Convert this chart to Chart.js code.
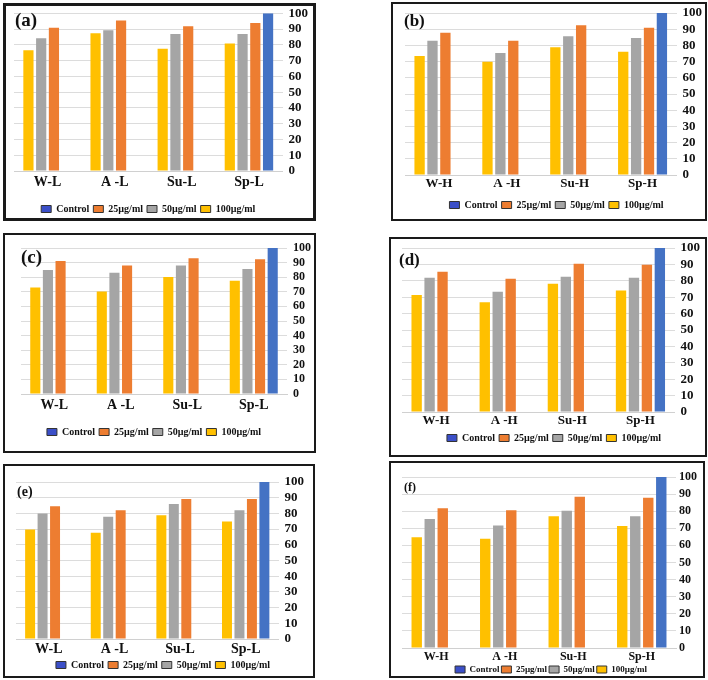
<!DOCTYPE html>
<html>
<head>
<meta charset="utf-8">
<script src="https://cdn.jsdelivr.net/npm/chart.js@4.4.1/dist/chart.umd.min.js"></script>
<style>
  body { margin: 0; background: #fff; width: 708px; height: 680px; position: relative; overflow: hidden; }
  .panel { position: absolute; border: 2px solid #1a1a1a; background: #fff; box-sizing: border-box; }
  .panel canvas { position: absolute; left: 0; top: 0; }
  .tag { position: absolute; font-family: "Liberation Serif", serif; font-weight: bold; color: #111; }
</style>
</head>
<body>
<div class="panel" id="pa" style="left:3px;top:3px;width:313px;height:218px;border-width:3px"><canvas id="ca"></canvas><div class="tag" style="left:9px;top:3px;font-size:19px">(a)</div></div>
<div class="panel" id="pb" style="left:391px;top:2px;width:316px;height:219px"><canvas id="cb"></canvas><div class="tag" style="left:11px;top:7px;font-size:17px">(b)</div></div>
<div class="panel" id="pc" style="left:3px;top:233px;width:313px;height:220px"><canvas id="cc"></canvas><div class="tag" style="left:16px;top:11px;font-size:19px">(c)</div></div>
<div class="panel" id="pd" style="left:389px;top:237px;width:318px;height:220px"><canvas id="cd"></canvas><div class="tag" style="left:8px;top:11px;font-size:17px">(d)</div></div>
<div class="panel" id="pe" style="left:3px;top:464px;width:312px;height:214px"><canvas id="ce"></canvas><div class="tag" style="left:12px;top:18px;font-size:14px">(e)</div></div>
<div class="panel" id="pf" style="left:389px;top:461px;width:316px;height:217px"><canvas id="cf"></canvas><div class="tag" style="left:13px;top:17px;font-size:12px">(f)</div></div>
<script>
// categories and legend names
const catsL = ['W-L', 'A -L', 'Su-L', 'Sp-L'];
const catsH = ['W-H', 'A -H', 'Su-H', 'Sp-H'];
const seriesNames = ['100µg/ml', '50µg/ml', '25µg/ml', 'Control'];
const yMin = 0, yMax = 100, yStep = 10;

// panel (a)
const a100 = [76.5, 87.4, 77.5, 80.9];
const a50 = [84.2, 89.3, 86.8, 86.8];
const a25 = [90.8, 95.4, 91.8, 93.9];
const aCtrl = [null, null, null, 100];
// panel (b)
const b100 = [73.4, 69.9, 78.8, 76.1];
const b50 = [82.9, 75.3, 85.6, 84.5];
const b25 = [87.8, 82.9, 92.4, 90.9];
const bCtrl = [null, null, null, 100];
// panel (c)
const c100 = [73.0, 70.2, 80.2, 77.5];
const c50 = [85.0, 83.0, 88.0, 85.7];
const c25 = [91.1, 88.0, 93.0, 92.3];
const cCtrl = [null, null, null, 100];
// panel (d)
const d100 = [71.4, 66.9, 78.2, 74.1];
const d50 = [81.8, 73.3, 82.4, 81.8];
const d25 = [85.5, 81.2, 90.4, 89.8];
const dCtrl = [null, null, null, 100];
// panel (e)
const e100 = [69.7, 67.6, 78.8, 74.8];
const e50 = [79.9, 77.8, 86.0, 82.0];
const e25 = [84.5, 82.0, 89.2, 89.2];
const eCtrl = [null, null, null, 100];
// panel (f)
const f100 = [64.7, 63.9, 77.0, 71.3];
const f50 = [75.4, 71.7, 80.3, 77.0];
const f25 = [81.7, 80.5, 88.5, 87.9];
const fCtrl = [null, null, null, 100];

const colors = ['#FFC000', '#A5A5A5', '#ED7D31', '#4472C4'];
const serif = '"Liberation Serif", "Times New Roman", serif';

function makeChart(canvasId, w, h, cats, vals, opt) {
    const cv = document.getElementById(canvasId);
    cv.width = w; cv.height = h;
    const datasets = vals.map((v, i) => ({
        label: seriesNames[i],
        data: v,
        backgroundColor: colors[i],
        borderWidth: 0,
        categoryPercentage: 0.76,
        barPercentage: 0.8
    }));
    return new Chart(cv, {
        type: 'bar',
        data: { labels: cats, datasets: datasets },
        options: {
            responsive: false,
            animation: false,
            layout: { padding: opt.pad },
            plugins: {
                tooltip: { enabled: false },
                legend: {
                    position: 'bottom',
                    fullSize: opt.legFull,
                    reverse: true,
                    labels: {
                        boxWidth: 10,
                        boxHeight: 7,
                        padding: opt.legPad,
                        color: '#111',
                        font: { family: serif, weight: 'bold', size: opt.legSize },
                        generateLabels: (chart) => {
                            const items = Chart.defaults.plugins.legend.labels.generateLabels(chart);
                            items.forEach(it => {
                                it.lineWidth = 1;
                                it.strokeStyle = '#333';
                                if (it.text === 'Control') it.fillStyle = '#3B4FC8';
                            });
                            return items;
                        }
                    }
                }
            },
            scales: {
                x: {
                    grid: { display: false, drawTicks: false },
                    border: { color: '#d0d0d0' },
                    afterFit: (scale) => { scale.height = opt.xH; },
                    ticks: { color: '#111', padding: opt.xPad, font: { family: serif, weight: 'bold', size: opt.xSize, lineHeight: 1 } }
                },
                y: {
                    position: 'right',
                    min: yMin, max: yMax,
                    grid: { color: '#dcdcdc', drawTicks: false },
                    border: { display: false },
                    ticks: { stepSize: yStep, autoSkip: false, color: '#111', padding: opt.yPad, font: { family: serif, weight: 'bold', size: opt.ySize, lineHeight: 0.2 } }
                }
            }
        }
    });
}

makeChart('ca', 307, 212, catsL, [a100, a50, a25, aCtrl],
    { pad: { left: 8, right: -1, top: 7, bottom: -6 }, legFull: false, legPad: 4, legSize: 10, xSize: 14, ySize: 13, yPad: 6, xPad: 4, xH: 29 });
makeChart('cb', 312, 215, catsH, [b100, b50, b25, bCtrl],
    { pad: { left: 12, right: -3, top: 9, bottom: -1 }, legFull: true, legPad: 4, legSize: 10, xSize: 13, ySize: 13, yPad: 6, xPad: 2, xH: 21 });
makeChart('cc', 309, 216, catsL, [c100, c50, c25, cCtrl],
    { pad: { left: 16, right: -3, top: 13, bottom: 4 }, legFull: false, legPad: 4, legSize: 10, xSize: 14, ySize: 12, yPad: 6, xPad: 4, xH: 29 });
makeChart('cd', 314, 216, catsH, [d100, d50, d25, dCtrl],
    { pad: { left: 11, right: -1, top: 9, bottom: 2 }, legFull: true, legPad: 4, legSize: 10, xSize: 13, ySize: 13, yPad: 6, xPad: 2, xH: 17 });
makeChart('ce', 308, 210, catsL, [e100, e50, e25, eCtrl],
    { pad: { left: 11, right: 3, top: 16, bottom: -4 }, legFull: true, legPad: 4, legSize: 10, xSize: 14, ySize: 13, yPad: 6, xPad: 3, xH: 17 });
makeChart('cf', 312, 213, catsH, [f100, f50, f25, fCtrl],
    { pad: { left: 11, right: 3, top: 14, bottom: -8 }, legFull: true, legPad: 2, legSize: 9, xSize: 12, ySize: 12, yPad: 3, xPad: 3, xH: 15 });
</script>
</body>
</html>
